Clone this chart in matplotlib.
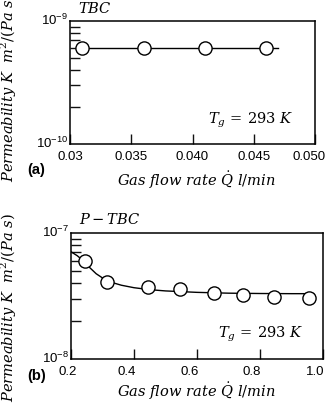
import numpy as np
import matplotlib
matplotlib.use("Agg")
import matplotlib.pyplot as plt
import matplotlib.transforms as mtransforms
from matplotlib.ticker import LogLocator, NullFormatter, FixedLocator, FixedFormatter

plt.rcParams['font.family'] = 'Liberation Sans'
plt.rcParams['mathtext.fontset'] = 'dejavuserif'

# (a) TBC
q_tbc = [0.031, 0.036, 0.041, 0.046]
k_tbc = [6.1e-10, 6.1e-10, 6.1e-10, 6.1e-10]
q_tbc_line = [0.031, 0.047]
k_tbc_line = [6.1e-10, 6.1e-10]

# (b) P-TBC
q_ptbc = [0.245, 0.315, 0.445, 0.545, 0.655, 0.745, 0.845, 0.955]
k_ptbc = [5.95e-8, 4.05e-8, 3.75e-8, 3.57e-8, 3.37e-8, 3.25e-8, 3.13e-8, 3.07e-8]
# ajuste
q_fit = [0.20, 0.22, 0.24, 0.26, 0.28, 0.30, 0.33, 0.36, 0.40, 0.45, 0.50, 0.60, 0.70, 0.80, 0.90, 0.97]
k_fit = [7.1e-8, 6.6e-8, 6.0e-8, 5.3e-8, 4.75e-8, 4.4e-8, 4.05e-8, 3.85e-8, 3.68e-8, 3.55e-8, 3.47e-8, 3.38e-8, 3.33e-8, 3.31e-8, 3.30e-8, 3.30e-8]

xt_a = [0.03, 0.035, 0.040, 0.045, 0.050]
xtl_a = ['0.03', '0.035', '0.040', '0.045', '0.050']
xt_b = [0.2, 0.4, 0.6, 0.8, 1.0]
xtl_b = ['0.2', '0.4', '0.6', '0.8', '1.0']
yt_a = [1e-10, 1e-9]
ytl_a = [r'$\mathregular{10^{-10}}$', r'$\mathregular{10^{-9}}$']
yt_b = [1e-8, 1e-7]
ytl_b = [r'$\mathregular{10^{-8}}$', r'$\mathregular{10^{-7}}$']

ylab = r'$Permeability\ K\ \ m^2/(Pa\ s)$'
xlab = r'$Gas\ flow\ rate\ \dot{Q}\ l/min$'
tg = r'$T_g\, =\, 293\ K$'

fig = plt.figure(figsize=(3.30, 4.08), dpi=100)
ax1 = fig.add_axes([0.212, 0.647, 0.743, 0.301])
ax2 = fig.add_axes([0.215, 0.120, 0.764, 0.309])

def estilo(ax, xt, xtl, yt, ytl, dx):
    ax.set_yscale('log')
    ax.set_ylim(yt[0], yt[-1])
    ax.set_xlim(xt[0], xt[-1])
    ax.xaxis.set_major_locator(FixedLocator(xt))
    ax.xaxis.set_major_formatter(FixedFormatter(xtl))
    ax.yaxis.set_major_locator(FixedLocator(yt))
    ax.yaxis.set_major_formatter(FixedFormatter(ytl))
    ax.yaxis.set_minor_locator(LogLocator(base=10, subs=np.arange(2, 10), numticks=10))
    ax.yaxis.set_minor_formatter(NullFormatter())
    ax.tick_params(axis='both', which='both', direction='in', top=False, right=False,
                   width=1.0, color='#111111')
    ax.tick_params(axis='x', which='major', length=7, pad=5, labelsize=9.5)
    ax.tick_params(axis='y', which='major', length=0, labelsize=9.5, pad=1.5)
    ax.tick_params(axis='y', which='minor', length=7)
    # desplazamiento horizontal de las etiquetas del eje x (en pixeles)
    for lab, d in zip(ax.get_xticklabels(), dx):
        off = mtransforms.ScaledTranslation(d / 100, 0, fig.dpi_scale_trans)
        lab.set_transform(lab.get_transform() + off)
    up = mtransforms.ScaledTranslation(0, 2 / 100, fig.dpi_scale_trans)
    for lab in ax.get_yticklabels():
        lab.set_transform(lab.get_transform() + up)
    for s in ax.spines.values():
        s.set_linewidth(1.1)

ax1.plot(q_tbc_line, k_tbc_line, color='black', lw=1.0)
ax1.plot(q_tbc, k_tbc, 'o', mfc='white', mec='black', ms=9.5, mew=1.0)
estilo(ax1, xt_a, xtl_a, yt_a, ytl_a, [0, 0, 0, 0, -6])

ax2.plot(q_fit, k_fit, color='black', lw=1.0)
ax2.plot(q_ptbc, k_ptbc, 'o', mfc='white', mec='black', ms=9.5, mew=1.0)
estilo(ax2, xt_b, xtl_b, yt_b, ytl_b, [-3, -7, -7, -8, -8])

ax1.text(0.91, 0.195, tg, transform=ax1.transAxes, ha='right', va='center', fontsize=10.5)
ax2.text(0.92, 0.198, tg, transform=ax2.transAxes, ha='right', va='center', fontsize=10.5)

fig.text(0.237, 0.980, r'$TBC$', ha='left', va='center', fontsize=10.5)
fig.text(0.240, 0.463, r'$P-TBC$', ha='left', va='center', fontsize=10.5)

fig.text(0.594, 0.559, xlab, ha='center', va='center', fontsize=10.5)
fig.text(0.594, 0.042, xlab, ha='center', va='center', fontsize=10.5)

fig.text(0.027, 0.784, ylab, rotation=90, ha='center', va='center', fontsize=10.5)
fig.text(0.027, 0.245, ylab, rotation=90, ha='center', va='center', fontsize=10.5)

fig.text(0.082, 0.583, '(a)', fontweight='bold', fontsize=10.5, ha='left', va='center')
fig.text(0.082, 0.078, '(b)', fontweight='bold', fontsize=10.5, ha='left', va='center')

fig.savefig('out.png', dpi=100)
